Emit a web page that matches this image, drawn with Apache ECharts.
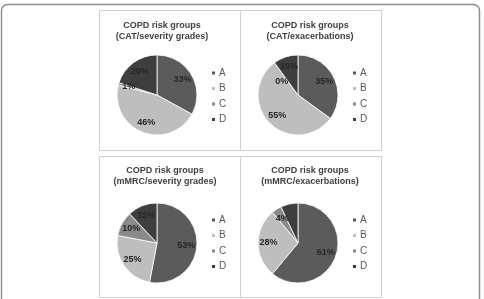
<!DOCTYPE html>
<html>
<head>
<meta charset="utf-8">
<script src="https://cdn.jsdelivr.net/npm/echarts@6/dist/echarts.min.js"></script>
<style>
  html, body { margin: 0; padding: 0; background: #fff; }
  #chart { width: 484px; height: 299px; }
</style>
</head>
<body>
<div id="chart"></div>
<script>
var groups = ['A', 'B', 'C', 'D'];
var colors = ['#5b5b5b', '#bebebe', '#8a8a8a', '#3e3e3e'];

var catSeverity = [33, 46, 1, 20];
var catExacerb = [35, 55, 0, 10];
var mmrcSeverity = [53, 25, 10, 12];
var mmrcExacerb = [61, 28, 4, 7];

var titles = [
    'COPD risk groups\n(CAT/severity grades)',
    'COPD risk groups\n(CAT/exacerbations)',
    'COPD risk groups\n(mMRC/severity grades)',
    'COPD risk groups\n(mMRC/exacerbations)'
];

// panel frame, pie centre, title centre and legend top
var panels = [
    { values: catSeverity, x: 99, y: 10, cx: 157, cy: 95, tx: 162, ty: 15.5, ly: 63 },
    { values: catExacerb, x: 240, y: 10, cx: 298, cy: 95, tx: 310, ty: 15.5, ly: 63 },
    { values: mmrcSeverity, x: 99, y: 156, cx: 157, cy: 243, tx: 165, ty: 160.5, ly: 210 },
    { values: mmrcExacerb, x: 240, y: 156, cx: 298, cy: 243, tx: 310, ty: 160.5, ly: 210 }
];

var font = '"Liberation Sans", Arial, sans-serif';
var myChart = echarts.init(document.getElementById('chart'));

var series = [], title = [], legend = [];
var graphic = [{
    type: 'rect',
    shape: { x: 1.5, y: 4.5, width: 478, height: 340, r: 6 },
    style: { fill: 'none', stroke: '#8f8f8f', lineWidth: 1.5 },
    silent: true
}];

panels.forEach(function(p, i) {
    var pieData = p.values.map(function(v, k) {
        return { name: groups[k], value: v, itemStyle: { color: colors[k] } };
    });
    graphic.push({
        type: 'rect',
        shape: { x: p.x + 0.5, y: p.y + 0.5, width: 141, height: i < 2 ? 140 : 141 },
        style: { fill: 'none', stroke: '#cfcfcf', lineWidth: 1 },
        silent: true
    });
    title.push({
        text: titles[i],
        left: p.tx - 5,
        top: p.ty,
        textAlign: 'center',
        textStyle: { fontFamily: font, fontSize: 9, fontWeight: 'bold', color: '#404040', lineHeight: 10.5 }
    });
    legend.push({
        data: groups,
        orient: 'vertical',
        left: p.x + 106,
        top: p.ly,
        itemWidth: 5,
        itemHeight: 5,
        itemGap: 5.5,
        icon: 'rect',
        selectedMode: false,
        textStyle: { fontFamily: font, fontSize: 10, color: '#595959', padding: [0, 0, 0, -2] }
    });
    // slices
    series.push({
        type: 'pie',
        radius: 40,
        center: [p.cx, p.cy],
        startAngle: 90,
        clockwise: true,
        animation: false,
        silent: true,
        label: { show: false },
        labelLine: { show: false },
        itemStyle: { borderColor: '#fff', borderWidth: 0.8 },
        data: pieData
    });
    // labels, placed a bit further out like the original
    series.push({
        type: 'pie',
        radius: 53,
        center: [p.cx, p.cy],
        startAngle: 90,
        clockwise: true,
        animation: false,
        silent: true,
        legendHoverLink: false,
        itemStyle: { color: 'rgba(0,0,0,0)', borderWidth: 0 },
        label: {
            show: true,
            position: 'inside',
            formatter: '{c}%',
            fontFamily: font,
            fontSize: 9,
            fontWeight: 'bold',
            color: '#262626'
        },
        labelLine: { show: false },
        data: p.values.map(function(v, k) {
            var d = { name: groups[k], value: v };
            // empty slice: label pushed down off the neighbouring one
            if (v === 0) d.label = { offset: [1, 10] };
            return d;
        })
    });
});

var option = {
    backgroundColor: '#fff',
    color: colors,
    animation: false,
    title: title,
    legend: legend,
    graphic: graphic,
    series: series
};
myChart.setOption(option);
</script>
</body>
</html>
